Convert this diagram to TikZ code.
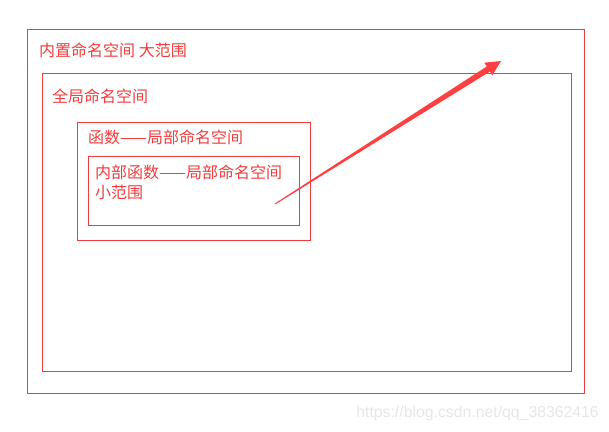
\documentclass[tikz,border=0pt]{standalone}
\usepackage{fontspec}
\newfontfamily\cjk{Noto Sans CJK SC}
\newfontfamily\wmfont{Liberation Sans}
\usepackage{tikz}
\usetikzlibrary{calc, positioning}
\definecolor{scopered}{RGB}{240,60,60}
\definecolor{arrowred}{RGB}{255,64,64}
\definecolor{markgray}{RGB}{230,230,230}
\tikzstyle{frame}=[draw=scopered, line width=1pt]
\tikzstyle{scopelabel}=[anchor=west, inner sep=0pt, text=scopered, font=\cjk\fontsize{16}{20}\selectfont]

\begin{document}
\begin{tikzpicture}[x=1pt, y=-1pt]
      \useasboundingbox (0,0) rectangle (609,431);
      \draw[frame] (27,29) rectangle (584,393);
      \draw[frame] (42,73) rectangle (571,371);
      \draw[frame] (77,122) rectangle (310,240);
      \draw[frame] (88,156) rectangle (299,225);

      \node[scopelabel] (builtin) at (39,50) {内置命名空间 大范围};
      \node[scopelabel] (global) at (52,96) {全局命名空间};
      \node[scopelabel] (func) at (88,137) {函数——局部命名空间};
      \node[scopelabel, anchor=north west, align=left] (inner) at (95,165) {内部函数——局部命名空间\\小范围};

      \coordinate (tail) at (275,204);
      \coordinate (tip) at (501,61);
      \coordinate (neck) at ($(tip)!15pt!(tail)$);
      \fill[arrowred] (tail) -- ($(tail)!0.5pt!90:(tip)$) -- ($(neck)!3pt!90:(tip)$) -- ($(neck)!7.5pt!90:(tip)$)
            -- (tip) -- ($(neck)!7.5pt!-90:(tip)$) -- ($(neck)!3pt!-90:(tip)$) -- ($(tail)!0.5pt!-90:(tip)$) -- cycle;

      \node[anchor=east, inner sep=0pt, text=markgray, font=\wmfont\fontsize{15.8}{18}\selectfont] (mark) at (599,413) {https://blog.csdn.net/qq\_38362416};
\end{tikzpicture}
\end{document}
